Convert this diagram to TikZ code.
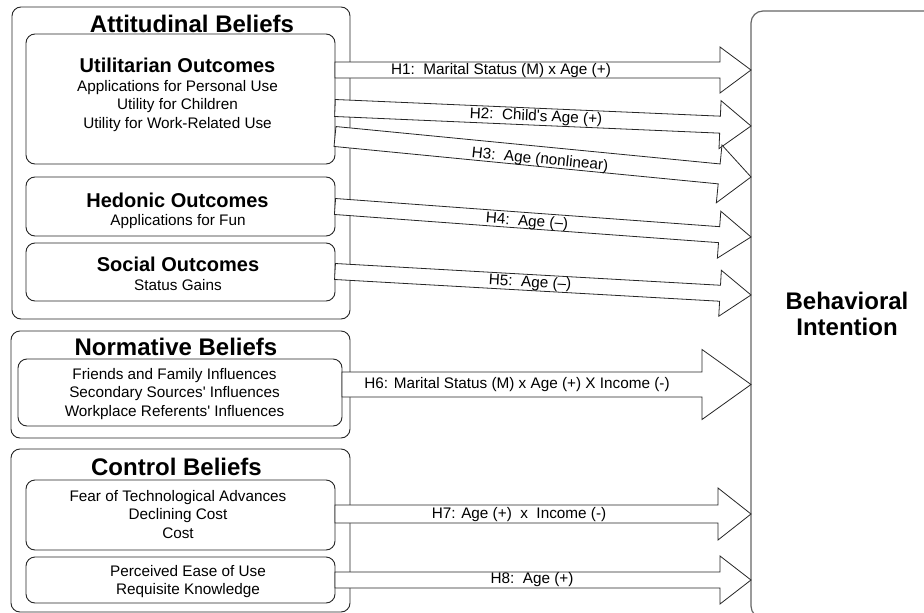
\documentclass[tikz,border=0pt]{standalone}
\usepackage{fontspec}
\setmainfont{Liberation Sans}[Ligatures=TeXOff]
\usetikzlibrary{calc,fit}

% font sizes (1 unit = 1pt)
\newcommand\groupfont{\fontsize{24}{27}\selectfont\bfseries}
\newcommand\headfont{\fontsize{20}{23}\selectfont\bfseries}
\newcommand\bodyfont{\fontsize{15.3}{18.5}\selectfont}

% block arrow from start #1 to tip #2: shaft half-width #3, head half-width #4, head length #5
\newcommand\blockarrow[5]{%
  \coordinate (ab) at ($(#2)!#5!(#1)$);
  \draw[barrow] ($(#1)!#3!90:(#2)$) -- ($(ab)!#3!90:(#2)$) -- ($(ab)!#4!90:(#2)$)
    -- (#2) -- ($(ab)!#4!-90:(#2)$) -- ($(ab)!#3!-90:(#2)$) -- ($(#1)!#3!-90:(#2)$) -- cycle;}

\begin{document}
\begin{tikzpicture}[x=1pt,y=-1pt,
  box/.style={draw=black!85, line width=0.9pt, rounded corners=9pt, inner sep=0pt, outer sep=0pt, fill=white},
  bibox/.style={draw=black!60, line width=1.2pt, rounded corners=12pt, inner sep=0pt, outer sep=0pt},
  barrow/.style={draw=black!85, line width=0.8pt, fill=white},
  txt/.style={inner sep=0pt, outer sep=0pt, align=center, anchor=north, text=black},
  lbl/.style={inner sep=0pt, outer sep=0pt, font=\bodyfont, text=black}]
\useasboundingbox (0,0) rectangle (924,613);

% outcome target
\node[bibox, fit={(751,11) (944,618)}] (bi) {};
\node[txt, font=\groupfont, align=center] (bitext) at (847,292) {Behavioral\\[-0.5pt]Intention};

% attitudinal beliefs
\node[box, fit={(12,7) (350,319)}] (att) {};
\node[box, fit={(26,34) (335,164)}] (util) {};
\node[box, fit={(26,177) (335,236)}] (hed) {};
\node[box, fit={(26,243) (335,301)}] (soc) {};
\node[txt, font=\groupfont] (attT) at (192,15) {Attitudinal Beliefs};
\node[txt, font=\headfont] (utilT) at (177.5,58) {Utilitarian Outcomes};
\node[txt, font=\bodyfont] (utilB) at (177.5,80) {Applications for Personal Use\\Utility for Children\\Utility for Work-Related Use};
\node[txt, font=\headfont] (hedT) at (177.5,193) {Hedonic Outcomes};
\node[txt, font=\bodyfont] (hedB) at (178,214) {Applications for Fun};
\node[txt, font=\headfont] (socT) at (178,257) {Social Outcomes};
\node[txt, font=\bodyfont] (socB) at (178,279) {Status Gains};

% normative beliefs
\node[box, fit={(11,331) (350,438)}] (norm) {};
\node[box, fit={(18,359) (342,426)}] (normIn) {};
\node[txt, font=\groupfont] (normT) at (176,338) {Normative Beliefs};
\node[txt, font=\bodyfont] (normB) at (174.5,368) {Friends and Family Influences\\Secondary Sources' Influences\\Workplace Referents' Influences};

% control beliefs
\node[box, fit={(11,449) (350,612)}] (ctrl) {};
\node[box, fit={(26,480) (335,550)}] (ctrlA) {};
\node[box, fit={(26,557) (335,603)}] (ctrlB) {};
\node[txt, font=\groupfont] (ctrlT) at (176.5,458) {Control Beliefs};
\node[txt, font=\bodyfont] (ctrlAB) at (178,490) {Fear of Technological Advances\\Declining Cost\\Cost};
\node[txt, font=\bodyfont] (ctrlBB) at (188,565) {Perceived Ease of Use\\Requisite Knowledge};

% arrow end points
\coordinate (s1) at (util.east |- 0,70);    \coordinate (t1) at (bi.west |- 0,70);
\coordinate (s2) at (util.east |- 0,108);   \coordinate (t2) at (bi.west |- 0,126);
\coordinate (s3) at (util.east |- 0,136.5); \coordinate (t3) at (bi.west |- 0,177);
\coordinate (s4) at (hed.east |- 0,206.5);  \coordinate (t4) at (bi.west |- 0,237);
\coordinate (s5) at (soc.east |- 0,271.5);  \coordinate (t5) at (bi.west |- 0,295);
\coordinate (s6) at (normIn.east |- 0,384.5); \coordinate (t6) at (bi.west |- 0,384.5);
\coordinate (s7) at (ctrlA.east |- 0,514);  \coordinate (t7) at (bi.west |- 0,514);
\coordinate (s8) at (ctrlB.east |- 0,580);  \coordinate (t8) at (bi.west |- 0,580);

% hypothesis arrows
\blockarrow{s1}{t1}{8pt}{23pt}{31pt}
\blockarrow{s2}{t2}{8.5pt}{24pt}{31pt}
\blockarrow{s3}{t3}{10pt}{29pt}{32pt}
\blockarrow{s4}{t4}{8pt}{23.5pt}{32pt}
\blockarrow{s5}{t5}{8pt}{23pt}{31pt}
\blockarrow{s6}{t6}{12.5pt}{35pt}{49pt}
\blockarrow{s7}{t7}{9pt}{26pt}{33pt}
\blockarrow{s8}{t8}{8pt}{24pt}{31pt}

% hypothesis labels
\node[lbl] (l1) at (501,71) {H1:~~Marital Status (M) x Age (+)};
\node[lbl, rotate=-2.5] (l2) at (536,117) {H2:~~Child's Age (+)};
\node[lbl, rotate=-5.6] (l3) at (540,160) {H3:~~Age (nonlinear)};
\node[lbl, rotate=-4.2] (l4) at (527,222) {H4:~~Age (–)};
\node[lbl, rotate=-3.2] (l5) at (530,283) {H5:~~Age (–)};
\node[lbl] (l6) at (517,385) {H6: Marital Status (M) x Age (+) X Income (-)};
\node[lbl] (l7) at (519,515) {H7: Age (+)~~x~~Income (-)};
\node[lbl] (l8) at (532,580) {H8:~~Age (+)};
\end{tikzpicture}
\end{document}
